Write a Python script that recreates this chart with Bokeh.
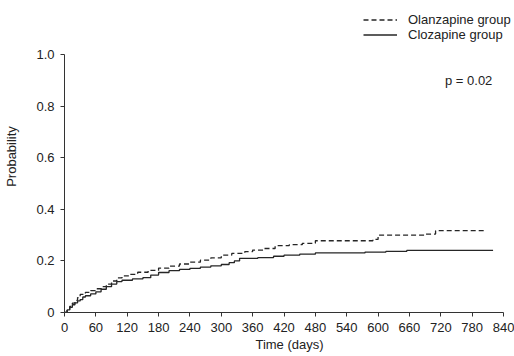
from bokeh.plotting import figure
from bokeh.models import FixedTicker, Legend, LegendItem, Label, Range1d
from bokeh.embed import file_html
from bokeh.resources import INLINE

# Data
clz_days = [0, 5, 10, 15, 20, 25, 30, 35, 40, 50, 60, 70, 80, 90, 100, 110, 130, 150, 165, 180,
            200, 220, 240, 260, 280, 300, 315, 325, 335, 370, 400, 420, 450, 480, 575, 615, 655, 820]
clz_prob = [0, 0.01, 0.02, 0.03, 0.037, 0.045, 0.05, 0.06, 0.065, 0.072, 0.08, 0.09, 0.1, 0.11, 0.12,
            0.125, 0.13, 0.135, 0.145, 0.155, 0.162, 0.167, 0.171, 0.176, 0.181, 0.186, 0.193, 0.2,
            0.21, 0.213, 0.218, 0.222, 0.226, 0.231, 0.234, 0.237, 0.241, 0.241]
olz_days = [0, 5, 10, 15, 20, 25, 30, 40, 50, 60, 70, 80, 90, 100, 110, 125, 140, 160, 180, 200,
            220, 240, 260, 280, 300, 320, 345, 360, 380, 403, 430, 455, 480, 590, 600, 690, 710, 805]
olz_prob = [0, 0.012, 0.024, 0.036, 0.047, 0.058, 0.07, 0.078, 0.085, 0.092, 0.1, 0.11, 0.122, 0.134,
            0.142, 0.148, 0.156, 0.163, 0.172, 0.18, 0.188, 0.195, 0.203, 0.212, 0.222, 0.229, 0.236,
            0.242, 0.248, 0.259, 0.263, 0.268, 0.278, 0.283, 0.3, 0.304, 0.317, 0.317]
x_ticks = [0, 60, 120, 180, 240, 300, 360, 420, 480, 540, 600, 660, 720, 780, 840]
y_ticks = [0, 0.2, 0.4, 0.6, 0.8, 1.0]
y_tick_labels = ["0", "0.2", "0.4", "0.6", "0.8", "1.0"]
series_names = ["Olanzapine group", "Clozapine group"]
p_text = "p = 0.02"

FONT = "Liberation Sans"
TXT = "#222222"
LINE = "#262626"

# Frame extends to the canvas top/right so the legend above the axes stays visible;
# axis bounds keep the axis lines to 0..840 and 0..1.
p = figure(width=514, height=356, output_backend="svg", toolbar_location=None,
           x_range=Range1d(0, 861), y_range=Range1d(0, 1.209),
           min_border_left=64, min_border_right=0, min_border_top=0, min_border_bottom=44)
p.outline_line_color = None
p.grid.visible = False
p.background_fill_color = "white"
p.border_fill_color = "white"

r_olz = p.step(olz_days, olz_prob, mode="after", line_color=LINE, line_width=1.3, line_dash="5 3")
r_clz = p.step(clz_days, clz_prob, mode="after", line_color=LINE, line_width=1.3)

for ax in (p.xaxis[0], p.yaxis[0]):
    ax.axis_line_color = "#333333"
    ax.major_tick_line_color = "#333333"
    ax.minor_tick_line_color = None
    ax.major_tick_in = 0
    ax.major_tick_out = 4
    ax.major_label_text_font = FONT
    ax.major_label_text_font_size = "13px"
    ax.major_label_text_color = TXT
    ax.axis_label_text_font = FONT
    ax.axis_label_text_font_size = "13px"
    ax.axis_label_text_font_style = "normal"
    ax.axis_label_text_color = TXT

p.xaxis.bounds = (0, 840)
p.yaxis.bounds = (0, 1.0)
p.xaxis.ticker = FixedTicker(ticks=x_ticks)
p.yaxis.ticker = FixedTicker(ticks=y_ticks)
p.yaxis.major_label_overrides = {t: l for t, l in zip(y_ticks, y_tick_labels)}
p.xaxis.axis_label = "Time (days)"
p.yaxis.axis_label = "Probability"
p.xaxis.major_label_standoff = 6
p.xaxis.axis_label_standoff = 2
p.yaxis.major_label_standoff = 6
p.yaxis.axis_label_standoff = 14

legend = Legend(items=[LegendItem(label=series_names[0], renderers=[r_olz]),
                       LegendItem(label=series_names[1], renderers=[r_clz])],
                location=(299, 270), orientation="vertical",
                glyph_width=34, glyph_height=15, label_height=15, spacing=0, padding=0, margin=0,
                label_standoff=11, label_text_font=FONT, label_text_font_size="13px",
                label_text_color=TXT, border_line_color=None, background_fill_alpha=0)
p.add_layout(legend)

p.add_layout(Label(x=728, y=0.9, text=p_text, text_font=FONT, text_font_size="13px",
                   text_color=TXT, text_baseline="middle"))

open("out.html", "w").write(file_html(p, INLINE))
